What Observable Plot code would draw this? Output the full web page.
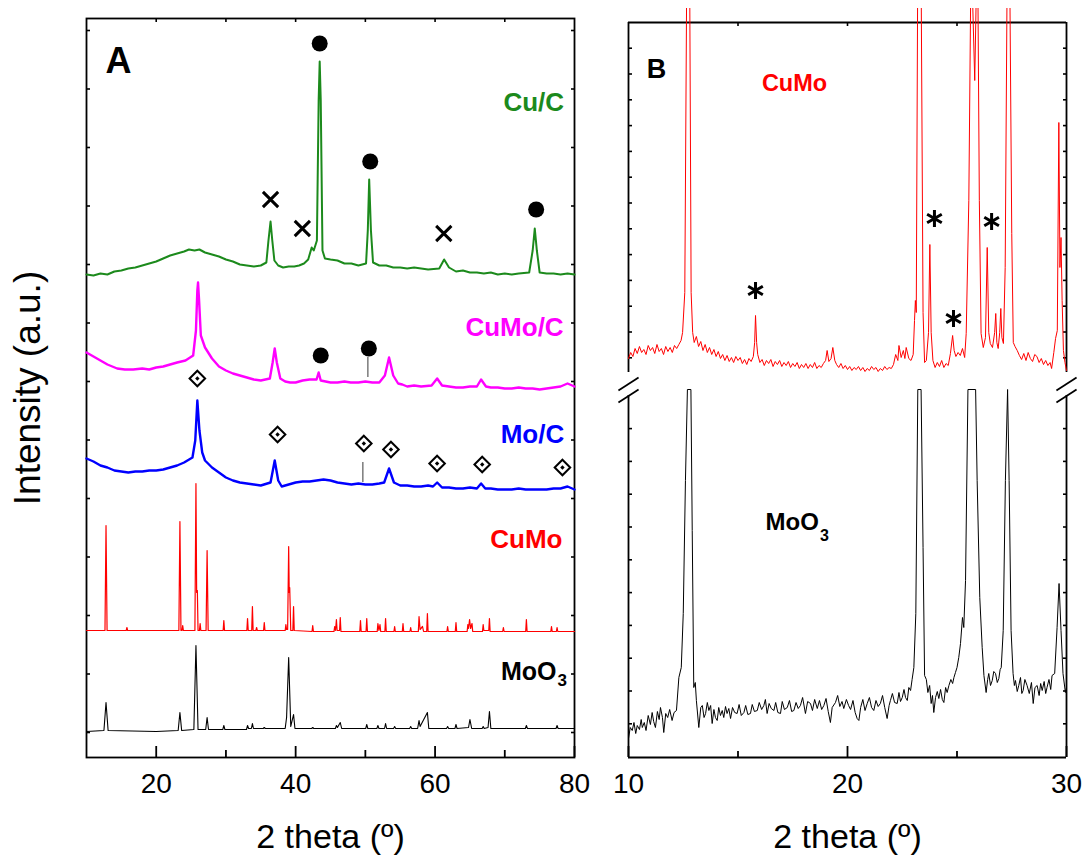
<!DOCTYPE html>
<html><head><meta charset="utf-8">
<script src="https://cdn.jsdelivr.net/npm/d3@7"></script>
<script src="https://cdn.jsdelivr.net/npm/@observablehq/plot@0.6"></script>
<style>
body{margin:0;background:#fff;}
#chart{position:relative;width:1086px;height:859px;overflow:hidden;background:#fff;}
#chart svg{position:absolute;}
</style></head><body><div id="chart"></div>
<script>
const FONT = "'Liberation Sans', Arial, Helvetica, sans-serif";
const GREEN = "#1c8a1c", MAGENTA = "#ff00ff", BLUE = "#0000ff", RED = "#ff0000";

// ---------- Panel A: 2θ (deg) vs intensity (a.u., offset traces) ----------
const cuC = [[10,458],[11,457],[12,459],[13,458],[14,461],[15,462],[16,464],[17,465],[18,467],[19,469],[20,471],[21,474],[22,477],[23,479],[24,481],[24.7,483],[25.5,482],[26.2,483],[27,480],[28,478],[29,476],[30,473],[31,471],[32,468],[33,467],[34,466],[35,467],[35.8,470],[36.1,492],[36.4,511],[36.65,492],[36.95,472],[37.5,467],[38.2,465],[39,466],[39.8,466],[40.5,467],[41.2,469],[41.8,473],[42.3,485],[42.6,482],[43.05,492],[43.3,632],[43.45,671],[43.6,632],[43.85,482],[44.2,474],[45,473],[46,472],[47,469],[48,469],[49,467],[50.1,469],[50.35,502],[50.55,553],[50.8,502],[51.1,470],[52,467],[53,467],[54,465],[55,465],[56,464],[57,465],[58,464],[59,463],[60.6,464],[61.3,473],[62,465],[63,461],[64,462],[65,460],[66,460],[67,459],[68,460],[69,458],[70,459],[71,458],[72,459],[73.5,460],[74.0,482],[74.3,504],[74.6,482],[75,460],[76,459],[77,459],[78,458],[79,459],[80,458]];
const cuMoC = [[10,380],[11,376],[12,372],[13,368],[14.4,364],[15.5,363],[16.7,363],[18,364],[19,363],[20,365],[21,366],[22,368],[23,370],[24.2,372],[25.3,377],[25.7,402],[25.9,442],[26.0,450],[26.15,432],[26.4,397],[27,385],[28,374],[29,366],[30,362],[31,359],[32,357],[33,355],[34,353],[35,352],[36.3,354],[36.7,370],[37.0,384],[37.3,370],[37.8,354],[38.5,351],[39.2,350],[40,350],[41,352],[42,353],[43.0,353],[43.3,360],[43.6,352],[44.3,351],[45,350],[46,350],[47,351],[47.9,350],[49,350],[50,351],[51,350],[52,350],[52.8,357],[53.4,375],[54,357],[54.7,349],[55.3,348],[56,346],[57,347],[58,346],[59.5,347],[60.3,354],[61,347],[62,346],[63,345],[64,345],[65,346],[66,346],[66.6,353],[67.3,346],[68,345],[69,345],[70,344],[71,344],[72,345],[73,344],[74,344],[75,343],[76,344],[77,345],[78,346],[79,349],[80,346]];
const moC = [[10,274],[11,271],[12,267],[13,265],[14,262],[15,261],[16,260],[17,261],[18,261],[19,262],[20,262],[21,263],[22,265],[23,267],[24,270],[25.2,275],[25.6,292],[25.9,332],[26.2,302],[26.6,280],[27,272],[28,265],[29,260],[30,255],[31,252],[32,250],[33,249],[34,248],[35,247],[36.4,250],[37.0,272],[37.5,252],[38,246],[39,248],[40,250],[41,251],[42,251],[43,252],[44,253],[45,252],[46,250],[47,249],[48,248],[49,249],[50,248],[51,248],[52,249],[52.7,250],[53.4,264],[54.1,250],[55,247],[56,247],[57,246],[58,246],[59,247],[59.7,246],[60.3,250],[61,245],[62,245],[63,244],[64,244],[65,245],[66,244],[66.6,249],[67.2,244],[68,244],[69,243],[70,243],[71,243],[72,244],[73,243],[74,243],[75,243],[76,243],[77,244],[78,244],[79,246],[80,243]];
const cuMoA = [[10,102],[12.65,102],[12.8,207],[12.95,102],[15.7,102],[15.8,105],[15.9,102],[23.25,102],[23.4,211],[23.55,102],[23.7,102],[23.8,107],[23.9,102],[25.55,102],[25.7,249],[25.8,140],[25.9,142],[26.0,102],[26.2,102],[26.3,109],[26.4,102],[27.15,102],[27.3,182],[27.45,102],[29.6,102],[29.7,112],[29.8,102],[33.0,102],[33.1,114],[33.2,102],[33.7,102],[33.8,126],[33.9,102],[34.3,102],[34.4,105],[34.5,102],[35.4,102],[35.5,110],[35.6,102],[38.5,102],[38.6,108],[38.7,103],[38.85,103],[39.0,186],[39.08,140],[39.15,145],[39.3,102],[39.6,102],[39.7,126],[39.8,102],[42.35,101],[42.45,107],[42.55,101],[45.5,101],[45.6,106],[45.72,102],[45.85,113],[45.95,102],[46.3,102],[46.4,115],[46.5,101],[49.2,101],[49.3,112],[49.4,101],[50.1,101],[50.2,114],[50.3,101],[51.7,101],[51.8,109],[51.95,102],[52.1,108],[52.2,101],[52.8,101],[52.9,114],[53.0,101],[54.1,101],[54.2,106],[54.3,101],[55.3,101],[55.4,109],[55.5,101],[56.4,101],[56.5,105],[56.6,101],[57.6,101],[57.7,116],[57.85,103],[58.2,106],[58.35,101],[58.8,101],[58.9,119],[59.0,101],[61.7,101],[61.8,106],[61.9,101],[62.9,101],[63.0,110],[63.1,101],[64.6,101],[64.7,108],[64.8,104],[64.95,113],[65.1,104],[65.3,109],[65.4,101],[66.8,101],[66.9,108],[67.0,102],[67.7,102],[67.8,114],[67.9,101],[69.7,101],[69.8,105],[69.9,101],[73.0,101],[73.1,113],[73.2,101],[76.6,101],[76.7,106],[76.8,101],[77.4,101],[77.5,105],[77.6,101],[80,101]];
const moO3A = [[10,1],[12.5,2],[12.8,30],[13.1,2],[20,1],[23.15,2],[23.4,20],[23.65,2],[25.4,3],[25.7,87],[26.0,3],[27.1,3],[27.3,15],[27.5,3],[29.55,3],[29.7,7],[29.85,3],[32.95,3],[33.1,7],[33.25,4],[33.65,4],[33.8,9],[33.95,4],[35.35,4],[35.5,5],[35.65,4],[38.5,4],[38.7,15],[39.0,75],[39.3,6],[39.7,18],[39.9,4],[42.3,4],[42.45,5],[42.6,4],[45.7,4],[45.85,7],[46.0,5],[46.4,10],[46.6,4],[50.05,4],[50.2,8],[50.35,4],[51.65,4],[51.8,7],[51.95,4],[52.75,4],[52.9,9],[53.05,4],[54.05,4],[54.2,6],[54.35,4],[56.35,4],[56.5,6],[56.65,4],[57.5,4],[57.7,12],[57.85,6],[58.9,20],[59.1,4],[61.65,4],[61.8,6],[61.95,4],[62.85,4],[63.0,8],[63.15,4],[64.8,5],[65.0,13],[65.25,4],[66.75,4],[66.9,6],[67.05,4],[67.6,5],[67.8,21],[68.0,4],[72.95,4],[73.1,7],[73.25,4],[77.35,4],[77.5,7],[77.65,4],[80,4]];

// phase markers (2θ, height)
const cuMetal = [[43.45,689],[50.7,571],[74.5,523],[43.6,377],[50.5,384]];
const cu2o = [[36.4,533],[40.96,504],[61.25,499]];
const moCPhase = [[25.9,354],[37.41,298],[49.78,289],[53.67,283],[60.29,269],[66.76,268],[78.27,265]];
const stemsA = [{x:50.36,y1:355,y2:375},{x:49.64,y1:250,y2:270}];

const xMajorA = [20,40,60,80], xMinorA = [30,50,70], xTopA = [20,30,40,50,60,70];
const yTicksA = [0,58.5,117,175.5,234,292.5,351,409.5,468,526.5,585,643.5,702];

// ---------- Panel B: 10–30° detail with broken intensity axis ----------
const cuMoB = [[10.0,14],[10.1,20],[10.2,16],[10.3,24],[10.4,19],[10.5,26],[10.6,20],[10.7,23],[10.8,18],[10.9,27],[11.0,22],[11.1,25],[11.2,19],[11.3,28],[11.4,21],[11.5,24],[11.6,18],[11.7,26],[11.8,21],[11.9,25],[12.0,20],[12.1,27],[12.2,24],[12.3,28],[12.4,32],[12.47,40],[12.57,80],[12.65,366],[12.8,366],[12.86,80],[12.93,40],[13.0,30],[13.1,36],[13.2,26],[13.3,31],[13.4,22],[13.5,28],[13.6,20],[13.7,25],[13.8,18],[13.9,23],[14.0,16],[14.1,21],[14.2,14],[14.3,18],[14.4,12],[14.5,17],[14.6,11],[14.7,15],[14.8,10],[14.9,16],[15.0,12],[15.1,15],[15.2,9],[15.3,13],[15.4,8],[15.5,14],[15.6,11],[15.7,16],[15.76,30],[15.8,57],[15.85,30],[15.9,18],[16.0,10],[16.1,13],[16.2,7],[16.3,12],[16.4,9],[16.5,13],[16.6,6],[16.7,11],[16.8,8],[16.9,12],[17.0,6],[17.1,10],[17.2,7],[17.3,11],[17.4,5],[17.5,9],[17.6,6],[17.7,10],[17.8,4],[17.9,8],[18.0,5],[18.1,9],[18.2,4],[18.3,8],[18.4,5],[18.5,10],[18.6,4],[18.7,7],[18.8,5],[18.9,9],[19.0,12],[19.07,22],[19.15,11],[19.25,14],[19.33,25],[19.42,12],[19.5,8],[19.6,5],[19.7,9],[19.8,4],[19.9,7],[20.0,3],[20.1,6],[20.2,2],[20.3,5],[20.4,3],[20.5,6],[20.6,2],[20.7,5],[20.8,1],[20.9,4],[21.0,2],[21.1,6],[21.2,3],[21.3,5],[21.4,1],[21.5,4],[21.6,2],[21.7,6],[21.8,3],[21.9,5],[22.0,4],[22.1,8],[22.2,18],[22.3,12],[22.35,27],[22.45,15],[22.55,22],[22.62,14],[22.68,25],[22.8,14],[22.9,12],[23.0,18],[23.06,52],[23.1,72],[23.14,60],[23.2,366],[23.37,366],[23.45,60],[23.52,10],[23.6,12],[23.7,40],[23.76,128],[23.82,40],[23.9,12],[24.0,5],[24.1,10],[24.2,6],[24.3,12],[24.4,5],[24.5,9],[24.6,7],[24.7,19],[24.8,37],[24.87,22],[24.95,16],[25.05,20],[25.15,17],[25.25,24],[25.35,15],[25.42,39],[25.54,172],[25.62,366],[25.72,366],[25.81,292],[25.87,366],[25.96,366],[26.02,172],[26.1,39],[26.2,25],[26.3,35],[26.38,125],[26.45,40],[26.52,29],[26.62,25],[26.72,40],[26.77,59],[26.82,30],[26.88,24],[26.95,40],[27.0,64],[27.05,35],[27.12,29],[27.2,105],[27.28,366],[27.42,366],[27.5,139],[27.57,30],[27.65,26],[27.75,22],[27.85,17],[27.95,13],[28.05,19],[28.15,12],[28.25,20],[28.35,14],[28.45,11],[28.55,18],[28.65,16],[28.75,10],[28.85,14],[28.95,8],[29.05,12],[29.15,7],[29.25,10],[29.32,4],[29.42,20],[29.5,34],[29.58,42],[29.65,250],[29.7,105],[29.75,135],[29.8,72],[29.86,22],[29.93,10],[30.0,2]];
const moO3B = [[10.0,19],[10.08,30],[10.17,27],[10.25,35],[10.33,24],[10.4,32],[10.5,28],[10.58,38],[10.63,30],[10.72,35],[10.8,27],[10.9,42],[11.0,33],[11.08,45],[11.15,36],[11.23,30],[11.32,46],[11.4,38],[11.46,50],[11.55,40],[11.61,25],[11.7,44],[11.79,40],[11.88,48],[11.99,37],[12.08,45],[12.19,47],[12.3,80],[12.41,90],[12.5,144],[12.6,277],[12.69,368],[12.85,368],[12.91,227],[12.98,70],[13.05,75],[13.1,57],[13.21,30],[13.3,50],[13.37,52],[13.45,40],[13.52,44],[13.6,55],[13.67,47],[13.75,52],[13.82,34],[13.9,48],[13.97,40],[14.05,37],[14.12,50],[14.2,42],[14.28,47],[14.35,40],[14.43,51],[14.5,44],[14.58,49],[14.66,39],[14.75,50],[14.85,45],[14.96,44],[15.05,53],[15.15,42],[15.27,45],[15.35,52],[15.45,43],[15.57,44],[15.65,53],[15.75,46],[15.88,47],[15.97,55],[16.08,48],[16.18,52],[16.25,58],[16.33,44],[16.42,54],[16.52,49],[16.64,47],[16.72,55],[16.82,45],[16.94,44],[17.02,56],[17.12,48],[17.25,50],[17.35,57],[17.45,46],[17.55,47],[17.65,55],[17.75,49],[17.85,52],[17.95,60],[18.08,44],[18.18,56],[18.31,54],[18.4,47],[18.5,58],[18.62,49],[18.72,57],[18.82,48],[18.92,52],[19.02,59],[19.12,46],[19.22,35],[19.3,50],[19.45,55],[19.55,62],[19.65,51],[19.75,56],[19.83,49],[19.95,58],[20.05,52],[20.14,48],[20.25,57],[20.35,45],[20.44,39],[20.52,37],[20.6,50],[20.7,58],[20.8,47],[20.9,54],[21.0,60],[21.1,50],[21.2,47],[21.3,57],[21.4,51],[21.5,54],[21.6,62],[21.7,50],[21.81,39],[21.9,52],[21.96,57],[22.05,64],[22.15,55],[22.27,54],[22.35,65],[22.42,56],[22.5,60],[22.58,68],[22.65,60],[22.73,57],[22.8,70],[22.88,67],[22.95,78],[23.03,90],[23.12,144],[23.21,368],[23.36,368],[23.45,210],[23.52,82],[23.6,78],[23.67,65],[23.75,72],[23.82,54],[23.88,62],[23.94,45],[24.02,60],[24.1,66],[24.17,59],[24.25,68],[24.33,58],[24.4,55],[24.48,70],[24.55,65],[24.63,72],[24.72,78],[24.8,74],[24.86,80],[24.93,85],[25.0,90],[25.08,100],[25.16,114],[25.25,140],[25.31,130],[25.39,177],[25.5,368],[25.85,368],[25.92,277],[26.04,160],[26.15,110],[26.23,82],[26.33,65],[26.4,78],[26.45,84],[26.53,72],[26.61,77],[26.68,86],[26.76,84],[26.84,75],[26.91,79],[26.97,88],[27.02,90],[27.11,127],[27.21,277],[27.31,368],[27.38,277],[27.47,127],[27.56,84],[27.62,72],[27.67,77],[27.75,66],[27.82,72],[27.9,80],[27.96,64],[28.02,67],[28.1,78],[28.2,72],[28.3,64],[28.4,75],[28.48,54],[28.56,70],[28.66,72],[28.75,62],[28.82,74],[28.89,67],[28.98,76],[29.05,64],[29.11,70],[29.2,78],[29.28,68],[29.34,82],[29.46,84],[29.57,130],[29.66,174],[29.75,127],[29.84,84],[29.95,65],[30.0,70]];
const impurity = [[15.8,82],[23.97,154],[24.84,54],[26.58,151]];

const xMajorB = [10,20,30], xMinorB = [15,25], xTopB = [15,20,25];
const yTicksBUp = [14.7,40.5,66.3,92.1,117.9,143.7,169.5,195.3,221.1,246.9,272.7,298.5,324.3];
const yTicksBLow = [33.7,66.5,99.3,132.1,164.9,197.7,230.5,263.3,296.1,328.9];
const breakMarks = [
  {x1:9.54,y1:367,x2:10.46,y2:380},{x1:9.54,y1:355,x2:10.46,y2:368},
  {x1:29.54,y1:367,x2:30.46,y2:380},{x1:29.54,y1:355,x2:30.46,y2:368}
];

const noText = () => "";
const ax = {stroke: "black", strokeWidth: 1.6, label: null};
// inward x ticks: rules inset from the frame so that only `len` px remain at the edge
const tickUp = (ticks, frameH, len) => Plot.ruleX(ticks, {stroke: "black", strokeWidth: 1.8, insetTop: frameH - len});
const tickDown = (ticks, frameH, len) => Plot.ruleX(ticks, {stroke: "black", strokeWidth: 1.6, insetBottom: frameH - len});

// ---------- Panel A (1 intensity unit = 1 px) ----------
const hA = 859 - 18 - 102;
const plotA = Plot.plot({
  width: 600, height: 859,
  marginLeft: 86, marginRight: 26, marginTop: 18, marginBottom: 102,
  x: {domain: [10, 80]},
  y: {domain: [-25, 714]},
  style: {fontFamily: FONT, background: "transparent", color: "black"},
  marks: [
    tickUp(xMajorA, hA, 11),
    tickUp(xMinorA, hA, 7),
    tickDown(xTopA, hA, 4),
    Plot.axisX(xMajorA, {...ax, anchor: "bottom", tickSize: 0, tickPadding: 16, fontSize: 28}),
    Plot.axisY(yTicksA, {...ax, anchor: "left", tickSize: -4, tickFormat: noText}),
    Plot.axisY(yTicksA, {...ax, anchor: "right", tickSize: -4, tickFormat: noText}),
    Plot.frame({stroke: "black", strokeWidth: 1.8}),
    Plot.line(moO3A, {x: d => d[0], y: d => d[1], stroke: "black", strokeWidth: 1.1}),
    Plot.line(cuMoA, {x: d => d[0], y: d => d[1], stroke: RED, strokeWidth: 1.2}),
    Plot.line(moC, {x: d => d[0], y: d => d[1], stroke: BLUE, strokeWidth: 2.4}),
    Plot.line(cuMoC, {x: d => d[0], y: d => d[1], stroke: MAGENTA, strokeWidth: 2.4}),
    Plot.line(cuC, {x: d => d[0], y: d => d[1], stroke: GREEN, strokeWidth: 2}),
    Plot.ruleX(stemsA, {x: "x", y1: "y1", y2: "y2", stroke: "#666", strokeWidth: 1.3}),
    Plot.dot(cuMetal, {x: d => d[0], y: d => d[1], r: 8, fill: "black", symbol: "circle"}),
    Plot.dot(cu2o, {x: d => d[0], y: d => d[1], r: 7, stroke: "black", strokeWidth: 3, symbol: "times"}),
    Plot.dot(moCPhase, {x: d => d[0], y: d => d[1], r: 7, stroke: "black", fill: "white", strokeWidth: 2, symbol: "diamond2"}),
    Plot.dot(moCPhase, {x: d => d[0], y: d => d[1], r: 2, fill: "black", symbol: "diamond2"}),
    Plot.text(["A"], {x: 14.6, y: 671, text: d => d, fontSize: 36, fontWeight: "bold", fill: "black"}),
    Plot.text(["Cu/C"], {x: 74.15, y: 630, text: d => d, fontSize: 26, fontWeight: "bold", fill: GREEN}),
    Plot.text(["CuMo/C"], {x: 71.4, y: 405, text: d => d, fontSize: 26, fontWeight: "bold", fill: MAGENTA}),
    Plot.text(["Mo/C"], {x: 73.96, y: 298, text: d => d, fontSize: 26, fontWeight: "bold", fill: BLUE}),
    Plot.text(["CuMo"], {x: 73.1, y: 193, text: d => d, fontSize: 26, fontWeight: "bold", fill: RED}),
    Plot.text(["MoO"], {x: 77.41, y: 60.5, text: d => d, textAnchor: "end", fontSize: 25, fontWeight: "bold", fill: "black"}),
    Plot.text(["3"], {x: 77.55, y: 52, text: d => d, textAnchor: "start", fontSize: 17, fontWeight: "bold", fill: "black"}),
    Plot.text(["2 theta (º)"], {text: d => d, frameAnchor: "bottom", textAnchor: "middle", lineAnchor: "middle", dy: 80, fontSize: 34, fill: "black"}),
    Plot.text(["Intensity (a.u.)"], {text: d => d, frameAnchor: "left", textAnchor: "middle", lineAnchor: "middle", dx: -58, rotate: -90, fontSize: 37, fill: "black"})
  ]
});

// ---------- Panel B, upper (CuMo) ----------
const yDomBUp = [0, 350];
const hBUp = 372 - 14 - 8;
const plotBUp = Plot.plot({
  width: 486, height: 372,
  marginLeft: 28, marginRight: 20, marginTop: 14, marginBottom: 8,
  x: {domain: [10, 30], axis: null},
  y: {domain: yDomBUp},
  style: {fontFamily: FONT, background: "transparent", color: "black"},
  marks: [
    tickDown(xTopB, hBUp, 4),
    Plot.axisY(yTicksBUp, {...ax, anchor: "left", tickSize: -4, tickFormat: noText}),
    Plot.axisY(yTicksBUp, {...ax, anchor: "right", tickSize: -4, tickFormat: noText}),
    Plot.ruleX([10, 30], {stroke: "black", strokeWidth: 1.8}),
    Plot.ruleY([yDomBUp[1]], {stroke: "black", strokeWidth: 1.8}),
    Plot.line(cuMoB, {x: d => d[0], y: d => d[1], stroke: RED, strokeWidth: 1}),
    Plot.dot(impurity, {x: d => d[0], y: d => d[1], r: 8, stroke: "black", strokeWidth: 3, symbol: "asterisk"}),
    Plot.text(["B"], {x: 11.28, y: 303, text: d => d, fontSize: 27, fontWeight: "bold", fill: "black"}),
    Plot.text(["CuMo"], {x: 17.58, y: 289.5, text: d => d, fontSize: 23.5, fontWeight: "bold", fill: RED})
  ]
});

// ---------- Panel B, lower (MoO3) ----------
const yDomBLow = [0, 362];
const hBLow = 487 - 23 - 102;
const plotBLow = Plot.plot({
  width: 486, height: 487,
  marginLeft: 28, marginRight: 20, marginTop: 23, marginBottom: 102,
  x: {domain: [10, 30]},
  y: {domain: yDomBLow},
  style: {fontFamily: FONT, background: "transparent", color: "black"},
  marks: [
    tickUp(xMajorB, hBLow, 11),
    tickUp(xMinorB, hBLow, 6),
    Plot.axisX(xMajorB, {...ax, anchor: "bottom", tickSize: 0, tickPadding: 16, fontSize: 28}),
    Plot.axisY(yTicksBLow, {...ax, anchor: "left", tickSize: -4, tickFormat: noText}),
    Plot.axisY(yTicksBLow, {...ax, anchor: "right", tickSize: -4, tickFormat: noText}),
    Plot.ruleX([10, 30], {stroke: "black", strokeWidth: 1.8}),
    Plot.ruleY([yDomBLow[0]], {stroke: "black", strokeWidth: 1.8}),
    Plot.link(breakMarks, {x1: "x1", y1: "y1", x2: "x2", y2: "y2", stroke: "black", strokeWidth: 1.8}),
    Plot.line(moO3B, {x: d => d[0], y: d => d[1], stroke: "black", strokeWidth: 1}),
    Plot.text(["MoO"], {x: 18.69, y: 235, text: d => d, textAnchor: "end", fontSize: 24, fontWeight: "bold", fill: "black"}),
    Plot.text(["3"], {x: 18.74, y: 221.5, text: d => d, textAnchor: "start", fontSize: 16, fontWeight: "bold", fill: "black"}),
    Plot.text(["2 theta (º)"], {text: d => d, frameAnchor: "bottom", textAnchor: "middle", lineAnchor: "middle", dy: 80, fontSize: 34, fill: "black"})
  ]
});

const chart = document.getElementById("chart");
function place(svg, left, top) { svg.style.left = left + "px"; svg.style.top = top + "px"; chart.appendChild(svg); }
place(plotA, 0, 0);
place(plotBLow, 600, 372);
place(plotBUp, 600, 8);
</script></body></html>
